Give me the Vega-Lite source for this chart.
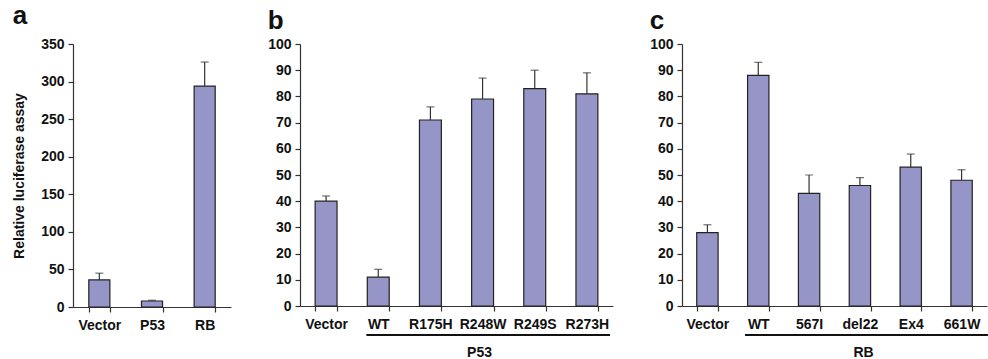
{
  "$schema": "https://vega.github.io/schema/vega-lite/v6.json",
  "padding": {"left": 12, "top": 3, "right": 0, "bottom": 0},
  "spacing": 36,
  "background": "white",
  "config": {
    "font": "Liberation Sans",
    "view": {"stroke": null},
    "axis": {"grid": false, "domainColor": "#333", "tickColor": "#333", "labelColor": "#111", "labelFontSize": 14, "labelFontWeight": "bold", "labelFont": "Liberation Sans", "titleFontSize": 14, "titleFontWeight": "bold", "titleColor": "#111", "titleFont": "Liberation Sans", "tickSize": 5, "domainWidth": 1.2, "tickWidth": 1.2, "labelPadding": 3},
    "axisY": {"labelPadding": 4, "labelOverlap": false},
    "title": {"fontSize": 26, "fontWeight": "bold", "anchor": "start", "frame": "bounds", "color": "#111", "font": "Liberation Sans"}
  },
  "datasets": {
    "a": [
      {"cat": "Vector", "value": 36, "upper": 45},
      {"cat": "P53", "value": 8, "upper": 9},
      {"cat": "RB", "value": 294, "upper": 326}
    ],
    "b": [
      {"cat": "Vector", "value": 40, "upper": 42},
      {"cat": "WT", "value": 11, "upper": 14},
      {"cat": "R175H", "value": 71, "upper": 76},
      {"cat": "R248W", "value": 79, "upper": 87},
      {"cat": "R249S", "value": 83, "upper": 90},
      {"cat": "R273H", "value": 81, "upper": 89}
    ],
    "c": [
      {"cat": "Vector", "value": 28, "upper": 31},
      {"cat": "WT", "value": 88, "upper": 93},
      {"cat": "567I", "value": 43, "upper": 50},
      {"cat": "del22", "value": 46, "upper": 49},
      {"cat": "Ex4", "value": 53, "upper": 58},
      {"cat": "661W", "value": 48, "upper": 52}
    ]
  },
  "hconcat": [
    {
      "title": {"text": "a", "offset": 8},
      "width": 158,
      "height": 263,
      "data": {"name": "a"},
      "encoding": {
        "x": {"field": "cat", "type": "nominal", "sort": null, "scale": {"paddingInner": 0.6, "paddingOuter": 0.3}, "axis": {"title": null, "labelAngle": 0, "tickBand": "extent", "labelPadding": 6}}
      },
      "layer": [
        {"mark": {"type": "bar", "fill": "#9595c8", "stroke": "#222", "strokeWidth": 1.2},
         "encoding": {"y": {"field": "value", "type": "quantitative", "title": "Relative luciferase assay", "scale": {"domain": [0, 350], "nice": false}, "axis": {"values": [0, 50, 100, 150, 200, 250, 300, 350], "titlePadding": 14}}}},
        {"mark": {"type": "rule", "color": "#333", "strokeWidth": 1.2},
         "encoding": {"y": {"field": "value", "type": "quantitative", "title": "Relative luciferase assay", "axis": {"values": [0, 50, 100, 150, 200, 250, 300, 350], "titlePadding": 14}}, "y2": {"field": "upper"}}},
        {"mark": {"type": "tick", "color": "#333", "thickness": 1.2, "size": 8},
         "encoding": {"y": {"field": "upper", "type": "quantitative", "title": "Relative luciferase assay", "axis": {"values": [0, 50, 100, 150, 200, 250, 300, 350], "titlePadding": 14}}}}
      ]
    },
    {
      "title": {"text": "b", "offset": 3},
      "width": 313,
      "height": 262,
      "data": {"name": "b"},
      "encoding": {
        "x": {"field": "cat", "type": "nominal", "sort": null, "title": "P53", "scale": {"paddingInner": 0.58, "paddingOuter": 0.29}, "axis": {"labelAngle": 0, "tickBand": "extent", "labelPadding": 6, "titleX": 179, "titleY": 39}}
      },
      "layer": [
        {"mark": {"type": "bar", "fill": "#9595c8", "stroke": "#222", "strokeWidth": 1.2},
         "encoding": {"y": {"field": "value", "type": "quantitative", "title": null, "scale": {"domain": [0, 100], "nice": false}, "axis": {"values": [0, 10, 20, 30, 40, 50, 60, 70, 80, 90, 100]}}}},
        {"mark": {"type": "rule", "color": "#333", "strokeWidth": 1.2},
         "encoding": {"y": {"field": "value", "type": "quantitative", "title": null, "axis": {"values": [0, 10, 20, 30, 40, 50, 60, 70, 80, 90, 100]}}, "y2": {"field": "upper"}}},
        {"mark": {"type": "tick", "color": "#333", "thickness": 1.2, "size": 8},
         "encoding": {"y": {"field": "upper", "type": "quantitative", "title": null, "axis": {"values": [0, 10, 20, 30, 40, 50, 60, 70, 80, 90, 100]}}}},
        {"mark": {"type": "rule", "color": "#111", "strokeWidth": 1.2, "xOffset": -11.5, "x2Offset": 23},
         "encoding": {"x": {"datum": "WT", "type": "nominal"}, "x2": {"datum": "R273H"}, "y": {"datum": -11, "type": "quantitative", "title": null, "axis": {"values": [0, 10, 20, 30, 40, 50, 60, 70, 80, 90, 100]}}}}
      ]
    },
    {
      "title": {"text": "c", "offset": 3},
      "width": 305,
      "height": 262,
      "data": {"name": "c"},
      "encoding": {
        "x": {"field": "cat", "type": "nominal", "sort": null, "title": "RB", "scale": {"paddingInner": 0.58, "paddingOuter": 0.29}, "axis": {"labelAngle": 0, "tickBand": "extent", "labelPadding": 6, "titleX": 181, "titleY": 39}}
      },
      "layer": [
        {"mark": {"type": "bar", "fill": "#9595c8", "stroke": "#222", "strokeWidth": 1.2},
         "encoding": {"y": {"field": "value", "type": "quantitative", "title": null, "scale": {"domain": [0, 100], "nice": false}, "axis": {"values": [0, 10, 20, 30, 40, 50, 60, 70, 80, 90, 100]}}}},
        {"mark": {"type": "rule", "color": "#333", "strokeWidth": 1.2},
         "encoding": {"y": {"field": "value", "type": "quantitative", "title": null, "axis": {"values": [0, 10, 20, 30, 40, 50, 60, 70, 80, 90, 100]}}, "y2": {"field": "upper"}}},
        {"mark": {"type": "tick", "color": "#333", "thickness": 1.2, "size": 8},
         "encoding": {"y": {"field": "upper", "type": "quantitative", "title": null, "axis": {"values": [0, 10, 20, 30, 40, 50, 60, 70, 80, 90, 100]}}}},
        {"mark": {"type": "rule", "color": "#111", "strokeWidth": 1.2, "xOffset": -13, "x2Offset": 26},
         "encoding": {"x": {"datum": "WT", "type": "nominal"}, "x2": {"datum": "661W"}, "y": {"datum": -11, "type": "quantitative", "title": null, "axis": {"values": [0, 10, 20, 30, 40, 50, 60, 70, 80, 90, 100]}}}}
      ]
    }
  ]
}
